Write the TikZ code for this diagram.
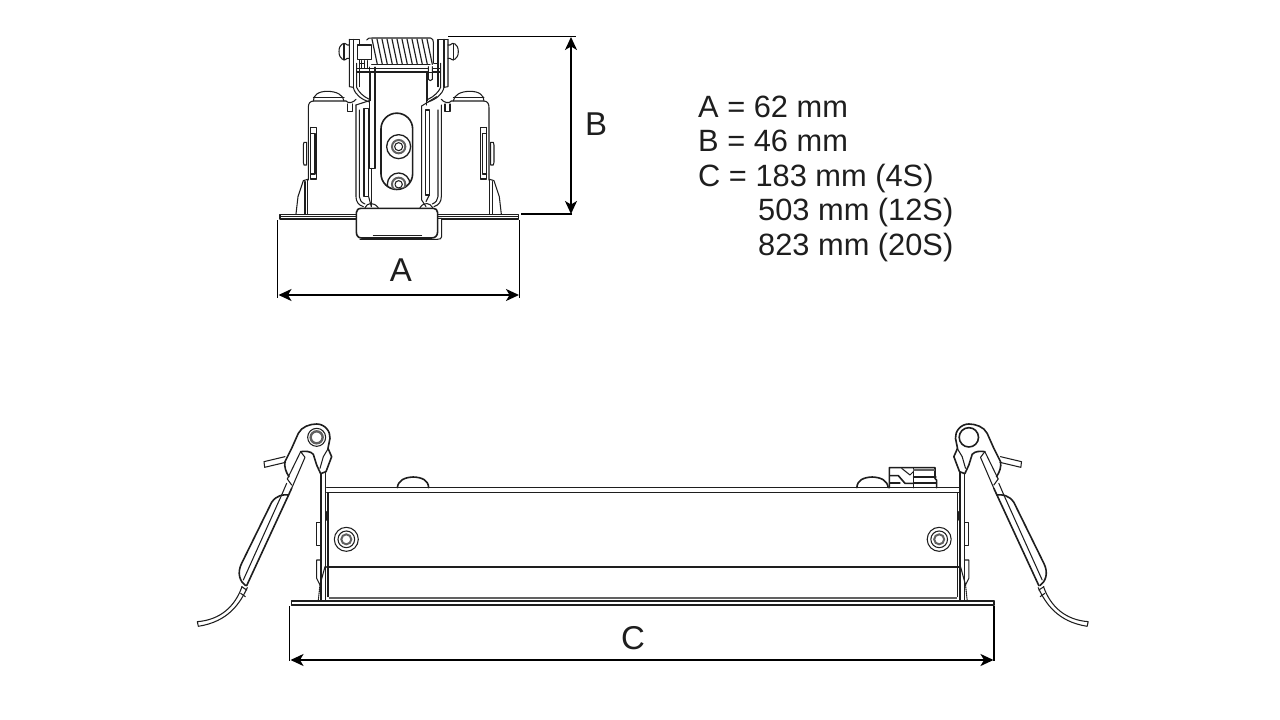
\documentclass[tikz,border=0pt]{standalone}
\usepackage{fontspec}
\setmainfont{Liberation Sans}
\usetikzlibrary{arrows.meta}
\definecolor{ink}{HTML}{1E1E1E}
\tikzset{
 ln/.style={draw=ink,line width=1.05pt,line join=round,line cap=round},
 thk/.style={draw=ink,line width=1.6pt,line join=round,line cap=round},
 gry/.style={draw=ink!70,line width=2pt},
 ext/.style={draw=black,line width=1.1pt},
 dimn/.style={draw=black,line width=1.7pt,{Stealth[length=13pt,width=12pt,inset=3.5pt]}-{Stealth[length=13pt,width=12pt,inset=3.5pt]}},
 lab/.style={font=\fontsize{33}{33}\selectfont,text=ink,inner sep=0pt},
 leg/.style={font=\fontsize{30.8}{30.8}\selectfont,text=ink,inner sep=0pt,anchor=base west},
}
% half of the end view, in zoom units (1/3 px)
\newcommand{\lampendhalf}{
 % screw head and body
 \draw[ln] (115,450)--(115,232) .. controls (115,220) and (120,213) .. (132,213)--(228,213);
 \draw[ln] (130,213) .. controls (130,195) and (145,184) .. (172,184) .. controls (200,184) and (220,195) .. (222,213);
 \draw[ln] (130,203)--(222,203);
 % tab
 \draw[ln] (232,222)--(232,245)--(247,245)--(247,222);
 \draw[ln] (228,213) .. controls (235,222) and (250,218) .. (258,208);
 % side bracket
 \draw[ln] (122,292)--(140,292)--(140,447)--(122,447)--(122,292);
 \draw[ln] (122,310)--(135,310)--(135,432)--(122,432);
 \draw[ln] (110,337)--(102,337)--(100,345)--(100,397)--(102,405)--(110,405)--cycle;
 % foot
 \draw[ln] (78,552)--(84,500)--(100,452)--(113,448);
 \draw[thk] (105,455)--(105,552);
 \draw[ln] (113,448)--(113,552);
 % central bracket
 \draw[ln] (258,225)--(258,500) .. controls (258,515) and (265,525) .. (280,530);
 \draw[ln] (268,240)--(268,500) .. controls (268,510) and (275,518) .. (285,522);
 \draw[ln] (300,130)--(300,212);
 % upper hinge
 \draw[ln] (238,28)--(238,170)--(250,172) .. controls (255,195) and (275,208) .. (298,216);
 \draw[ln] (238,28)--(268,28)--(268,170);
 \draw[ln] (250,28)--(250,172);
 \draw[ln] (260,100)--(260,172) .. controls (265,185) and (280,200) .. (298,208);
 \draw[ln] (268,100)--(300,100);
 % screw stub
 \draw[ln] (238,45)--(232,45) .. controls (225,35) and (207,40) .. (207,65) .. controls (207,88) and (225,95) .. (232,85)--(238,85);
 \draw[ln] (222,40)--(222,90);
}
\newcommand{\lampsidehalf}[1]{
 % lever strip
 \draw[ln] (332,110)--(345,127)--(305,220);
 \draw[ln] (332,110)--(292,192);
 \draw[thk] (305,220)--(170,512);
 \draw[ln] (275,240)--(160,495);
 \draw[ln] (292,192)--(305,210);
 \draw[ln] (290,205)--(275,240);
 \draw[thk] (296,240) .. controls (280,238) and (260,240) .. (245,262) -- (155,445) .. controls (140,475) and (150,500) .. (167,512);
 % tail
 \draw[ln] (155,515)--(170,525);
 \draw[ln] (152,535)--(166,545);
 \draw[ln] (172,518) .. controls (150,565) and (115,620) .. (25,634)--(22,620) .. controls (90,615) and (135,575) .. (156,515);
 % pin
 \draw[ln] (285,125)--(222,140)--(224,157)--(287,142);
 % head
 \draw[thk] (380,27) .. controls (360,27) and (335,35) .. (325,55) -- (305,100) -- (285,140) .. controls (282,155) and (288,172) .. (297,185);
 \draw[thk] (380,27) .. controls (405,27) and (422,50) .. (420,70) -- (414,100) -- (425,125) -- (408,170) -- (392,176) -- (380,150) -- (370,118) .. controls (362,108) and (345,108) .. (332,110);
 \draw[ln] (415,100)--(400,125)--(390,160);
 #1
 % frame
 \draw[thk] (393,178)--(393,555);
 \draw[thk] (407,172)--(407,555);
 \draw[ln] (414,235)--(414,545);
 \draw[thk] (410,290)--(410,315);
 \draw[ln] (393,322)--(380,322)--(380,392)--(393,392);
 \draw[ln] (393,435)--(380,435)--(380,490)--(390,510)--(405,455);
 \draw[ln,densely dotted] (390,510)--(385,555);
 % body
 \draw[thk] (622,218) .. controls (625,195) and (645,187) .. (670,186) .. controls (695,187) and (715,195) .. (716,218);
 \draw[thk] (410,218)--(1360,218);
 \draw[ln] (410,232)--(1360,232);
 \draw[thk] (410,456)--(1360,456);
 \draw[gry] (416,548)--(1360,548);
 % flange
 \draw[thk] (305,558)--(1360,558);
 \draw[thk] (305,570)--(1360,570);
 \draw[thk] (305,558)--(305,570);
 % screw
 \draw[ln] (469,373) circle[radius=36];
 \draw[ln] (469,373) circle[radius=25];
 \draw[gry] (469,373) circle[radius=15];
}
\begin{document}
\begin{tikzpicture}[x=1pt,y=-1pt]
\useasboundingbox (0,0) rectangle (1280,720);
\fill[white] (0,0) rectangle (1280,720);

% ================= END VIEW =================
\begin{scope}[shift={(270,30)},x=0.3333pt,y=-0.3333pt]
 \lampendhalf
\end{scope}
\begin{scope}[shift={(527.3,30)},x=-0.3333pt,y=-0.3333pt]
 \lampendhalf
\end{scope}
\begin{scope}[shift={(270,30)},x=0.3333pt,y=-0.3333pt]
 % flange
 \draw[thk,fill=white] (30,553) rectangle (745,567);
 \draw[ln] (30,560)--(258,560) (505,560)--(745,560);
 % lower clip
 \draw[ln,fill=white] (502,565)--(515,565)--(515,620) .. controls (515,626) and (510,628) .. (502,628)--(270,628);
 \draw[thk,fill=white] (275,535)--(490,535) .. controls (497,535) and (503,540) .. (503,548)--(503,605) .. controls (503,618) and (495,624) .. (485,624)--(275,624) .. controls (265,624) and (259,618) .. (259,605)--(259,548) .. controls (259,540) and (265,535) .. (275,535)--cycle;
 \draw[ln] (310,617)--(455,617);
 % little arcs above the clip
 \draw[ln] (285,533) .. controls (292,518) and (310,515) .. (325,533);
 \draw[ln] (450,533) .. controls (462,515) and (480,518) .. (488,533);
 % centre channels (not symmetrical)
 \draw[ln] (258,225)--(298,212);
 \draw[ln] (282,235) rectangle (296,500);
 \draw[ln] (296,500)--(304,530);
 \draw[ln] (304,415)--(304,530);
 \draw[ln] (455,228)--(455,510)--(468,530);
 \draw[ln] (455,228)--(500,200);
 \draw[ln] (466,240) rectangle (478,495);
 \draw[ln] (478,495)--(468,515);
 \draw[thk] (298,112)--(298,415)--(315,415)--(315,112);
 \draw[ln] (470,126)--(470,225);
 % slot and screws
 \draw[thk] (333,297) arc[start angle=180,end angle=360,radius=47.5]--(428,431) arc[start angle=0,end angle=180,radius=47.5]--cycle;
 \draw[ln,line width=1.3pt] (386,350) circle[radius=36];
 \draw[gry] (386,350) circle[radius=20];
 \draw[ln] (386,350) circle[radius=12];
 \begin{scope}
  \clip (333,431) arc[start angle=180,end angle=0,radius=47.5]--(428,400)--(333,400)--cycle;
  \draw[ln,line width=1.3pt] (386,463) circle[radius=34];
  \draw[gry] (386,463) circle[radius=20];
  \draw[ln] (386,463) circle[radius=11];
 \end{scope}
 % spring
 \fill[white] (285,24) rectangle (492,106);
 \draw[ln] (290,30) .. controls (292,24) and (300,24) .. (306,24)--(482,24) .. controls (488,26) and (490,30) .. (490,36)--(490,100);
 \foreach \i in {0,...,11}{
  \draw[ln,line width=1.15pt] ({306+\i*15},27)--({322+\i*15},103);
 }
 \draw[ln] (305,103)--(480,103);
 \draw[ln,fill=white] (262,45) rectangle (305,88);
 % cross bar and hinge post
 \draw[ln] (262,116)--(510,116);
 \draw[ln] (262,126)--(510,126);
 \draw[ln,fill=white] (475,110)--(475,148) .. controls (478,153) and (484,153) .. (487,148)--(487,110);
 \draw[ln] (475,128)--(487,128);
 \foreach \xx in {275,284,293}{\draw[ln] (\xx,92)--(\xx,114);}
\end{scope}

% ================= SIDE VIEW =================
\begin{scope}[shift={(190,415)},x=0.3333pt,y=-0.3333pt]
 \lampsidehalf{
  \draw[ln] (380,67) circle[radius=27];
  \draw[ink!70,line width=2.4pt] (380,67) circle[radius=18];
 }
\end{scope}
\begin{scope}[shift={(1095.5,415)},x=-0.3333pt,y=-0.3333pt]
 \lampsidehalf{
  \draw[ln,line width=1.6pt] (380,67) circle[radius=29];
 }
\end{scope}
% connector block, right
\begin{scope}[shift={(850,415)},x=0.3333pt,y=-0.3333pt]
 \fill[white] (120,160) rectangle (258,216);
 \draw[thk] (118,218)--(118,158)--(255,158)--(255,190)--(260,196)--(260,218);
 \draw[thk] (190,160)--(190,218);
 \draw[gry] (190,166)--(255,166);
 \draw[ln] (190,186)--(258,186);
 \draw[ln] (190,204)--(260,204);
 \draw[thk] (120,182)--(145,182)--(165,205)--(190,205);
 \draw[ln] (155,160)--(180,180)--(190,170);
 \draw[ln] (120,204)--(150,204);
\end{scope}

% ================= DIMENSIONS =================
\coordinate (a1t) at (277.7,220);
\coordinate (a1b) at (277.7,298);
\coordinate (a2t) at (519.5,220);
\coordinate (a2b) at (519.5,298);
\coordinate (aL) at (278.5,295);
\coordinate (aR) at (519,295);
\draw[ext] (a1t)--(a1b);
\draw[ext] (a2t)--(a2b);
\draw[dimn] (aL)--(aR);
\coordinate (b1s) at (448,36.5);
\coordinate (b1e) at (576,36.5);
\coordinate (b2s) at (521,214);
\coordinate (b2e) at (572,214);
\coordinate (bT) at (571,37);
\coordinate (bB) at (571,214);
\draw[ext] (b1s)--(b1e);
\draw[ext] (b2s)--(b2e);
\draw[dimn] (bT)--(bB);
\coordinate (c1t) at (289.7,606);
\coordinate (c1b) at (289.7,661);
\coordinate (c2t) at (994,606);
\coordinate (c2b) at (994,661);
\coordinate (cL) at (290.5,660);
\coordinate (cR) at (993.5,660);
\draw[ext] (c1t)--(c1b);
\draw[ext] (c2t)--(c2b);
\draw[dimn] (cL)--(cR);

\node[lab] (la) at (401,270) {A};
\node[lab] (lb) at (596,124) {B};
\node[lab] (lc) at (633,638) {C};

\node[leg] (l1) at (698,117.5) {A = 62 mm};
\node[leg] (l2) at (698,151.5) {B = 46 mm};
\node[leg] (l3) at (698,186) {C = 183 mm (4S)};
\node[leg] (l4) at (758,220.5) {503 mm (12S)};
\node[leg] (l5) at (758,255.5) {823 mm (20S)};
\end{tikzpicture}
\end{document}
